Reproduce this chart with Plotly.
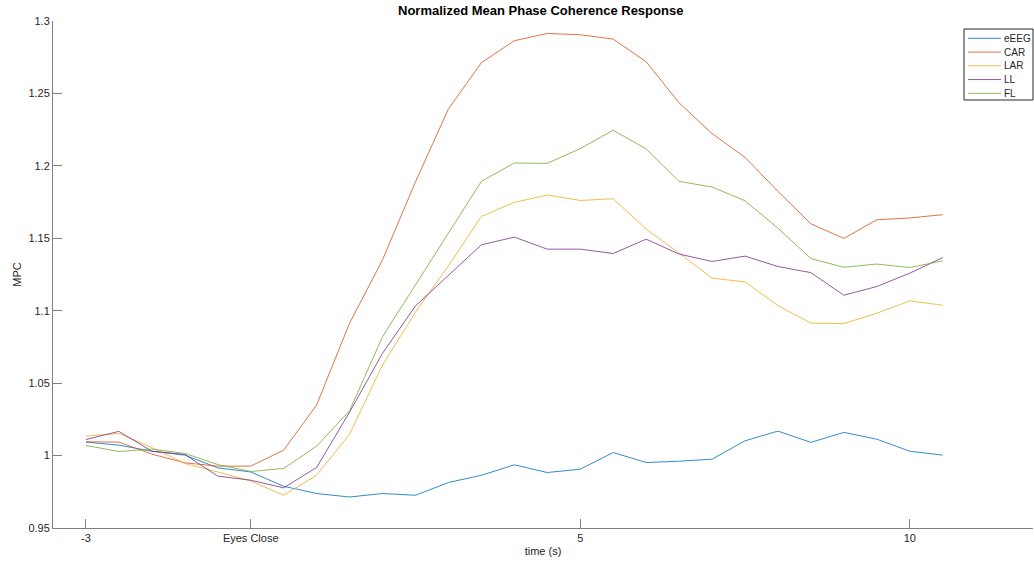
import plotly.graph_objects as go

# Time axis: 0.5 s steps, eyes close at t = 0
t = [-2.5 + 0.5 * k for k in range(27)]

eEEG = [1.0093, 1.0072, 1.0030, 1.0003, 0.9915, 0.9887, 0.9788, 0.9738, 0.9714,
        0.9738, 0.9726, 0.9814, 0.9864, 0.9936, 0.9883, 0.9906, 1.0021, 0.9952,
        0.9961, 0.9975, 1.0102, 1.0169, 1.0091, 1.0160, 1.0113, 1.0030, 1.0003]
CAR = [1.0095, 1.0093, 1.0010, 0.9950, 0.9927, 0.9927, 1.0037, 1.0349, 1.0914,
       1.1351, 1.1890, 1.2393, 1.2712, 1.2864, 1.2914, 1.2905, 1.2875, 1.2719,
       1.2435, 1.2223, 1.2059, 1.1824, 1.1600, 1.1499, 1.1628, 1.1640, 1.1663]
LAR = [1.0134, 1.0153, 1.0055, 0.9945, 0.9887, 0.9825, 0.9726, 0.9864, 1.0148,
       1.0625, 1.0990, 1.1310, 1.1651, 1.1748, 1.1799, 1.1761, 1.1773, 1.1564,
       1.1398, 1.1225, 1.1199, 1.1035, 1.0914, 1.0911, 1.0983, 1.1068, 1.1038]
LL = [1.0111, 1.0167, 1.0030, 1.0008, 0.9858, 0.9830, 0.9777, 0.9918, 1.0300,
      1.0706, 1.1033, 1.1243, 1.1455, 1.1508, 1.1425, 1.1425, 1.1395, 1.1494,
      1.1391, 1.1340, 1.1377, 1.1305, 1.1263, 1.1107, 1.1167, 1.1259, 1.1367]
FL = [1.0070, 1.0028, 1.0045, 1.0015, 0.9938, 0.9890, 0.9911, 1.0065, 1.0310,
      1.0821, 1.1178, 1.1533, 1.1893, 1.2020, 1.2017, 1.2119, 1.2246, 1.2117,
      1.1893, 1.1854, 1.1759, 1.1570, 1.1360, 1.1300, 1.1322, 1.1298, 1.1344]

series = [("eEEG", eEEG), ("CAR", CAR), ("LAR", LAR), ("LL", LL), ("FL", FL)]
colors = ["#0072BD", "#D95319", "#EDB120", "#7E2F8E", "#77AC30"]

x_tickvals = [-2.5, 0, 5, 10]
x_ticktext = ["-3", "Eyes Close", "5", "10"]
y_tickvals = [0.95, 1.0, 1.05, 1.1, 1.15, 1.2, 1.25, 1.3]
y_ticktext = ["0.95", "1", "1.05", "1.1", "1.15", "1.2", "1.25", "1.3"]
X_RANGE = [-3, 11.87]
Y_RANGE = [0.95, 1.3]

FONT = "Liberation Sans, Arial, Helvetica, sans-serif"
AX = "#808080"
W, H = 1034, 566
ML, MR, MT, MB = 53, 1, 21, 38
PW, PH = W - ML - MR, H - MT - MB


def px_x(px):
    return (px - ML) / PW


def px_y(py):
    return 1 - (py - MT) / PH


fig = go.Figure()
for (name, vals), c in zip(series, colors):
    fig.add_trace(go.Scatter(x=t, y=vals, mode="lines", name=name,
                             line=dict(color=c, width=1), opacity=0.8,
                             showlegend=False))

# Compact boxed legend in the upper-right corner
shapes = [dict(type="rect", xref="paper", yref="paper",
               x0=px_x(964), x1=px_x(1033), y0=px_y(100), y1=px_y(29),
               line=dict(color="#262626", width=1), fillcolor="white",
               layer="above")]
annotations = []
for i, ((name, _), c) in enumerate(zip(series, colors)):
    yy = px_y(38.3 + 13.75 * i)
    shapes.append(dict(type="line", xref="paper", yref="paper",
                       x0=px_x(968), x1=px_x(1001), y0=yy, y1=yy,
                       line=dict(color=c, width=1), opacity=0.8, layer="above"))
    annotations.append(dict(text=name, xref="paper", yref="paper",
                            x=px_x(1002), y=yy, xanchor="left", yanchor="middle",
                            showarrow=False,
                            font=dict(size=10, color="#262626")))

annotations.append(dict(text="<b>Normalized Mean Phase Coherence Response</b>",
                        xref="paper", yref="paper", x=px_x(540), y=px_y(10),
                        xanchor="center", yanchor="middle", showarrow=False,
                        font=dict(size=13, color="#000000")))

fig.update_layout(
    width=W, height=H,
    margin=dict(l=ML, r=MR, t=MT, b=MB),
    paper_bgcolor="white", plot_bgcolor="white",
    font=dict(family=FONT, size=11, color="#262626"),
    showlegend=False,
    shapes=shapes,
    annotations=annotations,
    # top box edge with its own inward ticks
    xaxis2=dict(overlaying="x", side="top", range=X_RANGE, tickmode="array",
                tickvals=x_tickvals, showticklabels=False, ticks="inside",
                ticklen=9, tickcolor=AX, showline=True, linecolor=AX,
                linewidth=1, showgrid=False, zeroline=False),
    xaxis=dict(range=X_RANGE, tickmode="array", tickvals=x_tickvals,
               ticktext=x_ticktext, ticks="inside", ticklen=9, tickcolor=AX,
               showline=True, linecolor=AX, linewidth=1, mirror=False,
               showgrid=False, zeroline=False,
               title=dict(text="time (s)", standoff=4,
                          font=dict(size=11, color="#262626"))),
    yaxis=dict(range=Y_RANGE, tickmode="array", tickvals=y_tickvals,
               ticktext=y_ticktext, ticks="inside", ticklen=9, tickcolor=AX,
               showline=True, linecolor=AX, linewidth=1, mirror=False,
               showgrid=False, zeroline=False,
               title=dict(text="MPC", standoff=4,
                          font=dict(size=11, color="#262626"))),
)

fig.write_html("out.html")
